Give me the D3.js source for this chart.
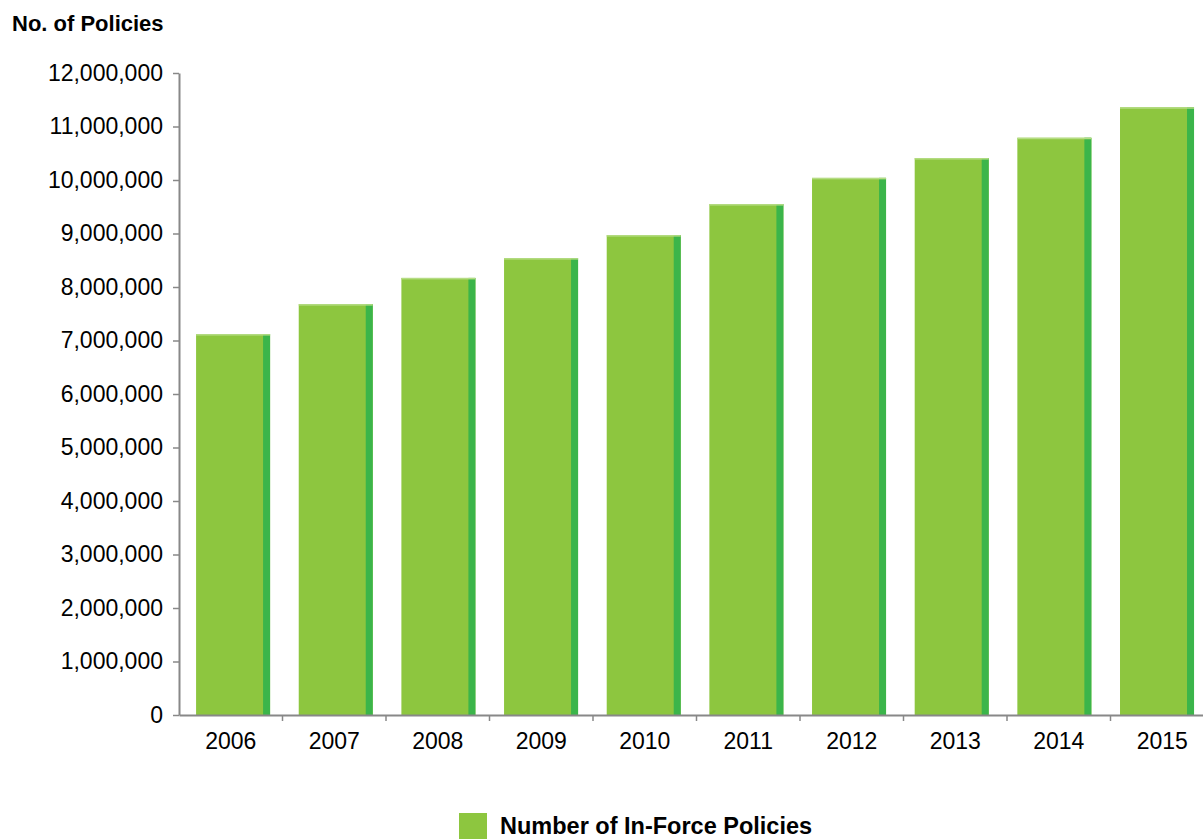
<!DOCTYPE html>
<html><head><meta charset="utf-8">
<script src="https://cdn.jsdelivr.net/npm/d3@7"></script>
<style>body{margin:0;background:#fff}svg{display:block;font-family:"Liberation Sans",Arial,sans-serif}</style>
</head><body><svg id="c" width="1203" height="839"></svg>
<script>
const years = ["2006","2007","2008","2009","2010","2011","2012","2013","2014","2015"];
const policies = [7120000,7680000,8170000,8540000,8970000,9550000,10040000,10410000,10790000,11360000];
const yTicks = [0,1000000,2000000,3000000,4000000,5000000,6000000,7000000,8000000,9000000,10000000,11000000,12000000];
const seriesName = "Number of In-Force Policies";
const yTitle = "No. of Policies";

const svg = d3.select("#c");
const x = d3.scaleBand().domain(years).range([179, 1214]);
const xb = d3.scaleBand().domain(years).range([181.7, 1208.4]).paddingInner(0.279).paddingOuter(0.14);
const y = d3.scaleLinear().domain([0, 12000000]).range([715, 73]);
const fmt = d3.format(",");
const FF = "Liberation Sans, Arial, sans-serif";

// bars
const bw = xb.bandwidth();
const data = years.map((d,i)=>({k:d,v:policies[i]}));
const bars = svg.append("g").selectAll("g").data(data).join("g");
bars.append("rect").attr("x", d=>xb(d.k)).attr("width", bw)
  .attr("y", d=>y(d.v)).attr("height", d=>y(0)-y(d.v)).attr("fill","#8DC63F");
bars.append("rect").attr("x", d=>xb(d.k)+bw-7).attr("width", 7)
  .attr("y", d=>y(d.v)).attr("height", d=>y(0)-y(d.v)).attr("fill","#3BB54A");
bars.append("rect").attr("x", d=>xb(d.k)).attr("width", bw)
  .attr("y", d=>y(d.v)).attr("height", 1.5).attr("fill","#b5dc84");

// y axis
const ya = svg.append("g").attr("transform","translate(179,0)")
  .call(d3.axisLeft(y).tickValues(yTicks).tickFormat(fmt).tickSize(6).tickSizeOuter(0));
ya.select(".domain").attr("stroke","#888").attr("stroke-width",2);
ya.selectAll(".tick line").attr("stroke","#888").attr("stroke-width",1.5);
ya.selectAll(".tick text").attr("x",-16).attr("font-size",23).attr("fill","#000").attr("font-family",FF);

// x axis
const xa = svg.append("g").attr("transform","translate(0,715)")
  .call(d3.axisBottom(x).tickSize(0).tickSizeOuter(0));
xa.select(".domain").attr("stroke","#888").attr("stroke-width",2);
xa.selectAll(".tick text").attr("dy",0).attr("y",34).attr("font-size",23).attr("fill","#000").attr("font-family",FF);
xa.selectAll("line.sep").data(years.slice(1)).join("line").attr("class","sep")
  .attr("x1", d=>x(d)).attr("x2", d=>x(d)).attr("y1",0).attr("y2",6)
  .attr("stroke","#888").attr("stroke-width",1.5);

// title
svg.append("text").attr("x",12).attr("y",31).attr("font-size",22).attr("font-weight","bold").attr("font-family",FF).text(yTitle);

// legend
svg.append("rect").attr("x",459).attr("y",813).attr("width",28).attr("height",28).attr("fill","#8DC63F");
svg.append("text").attr("x",500).attr("y",834).attr("font-size",23.5).attr("font-weight","bold").attr("font-family",FF).text(seriesName);
</script></body></html>
